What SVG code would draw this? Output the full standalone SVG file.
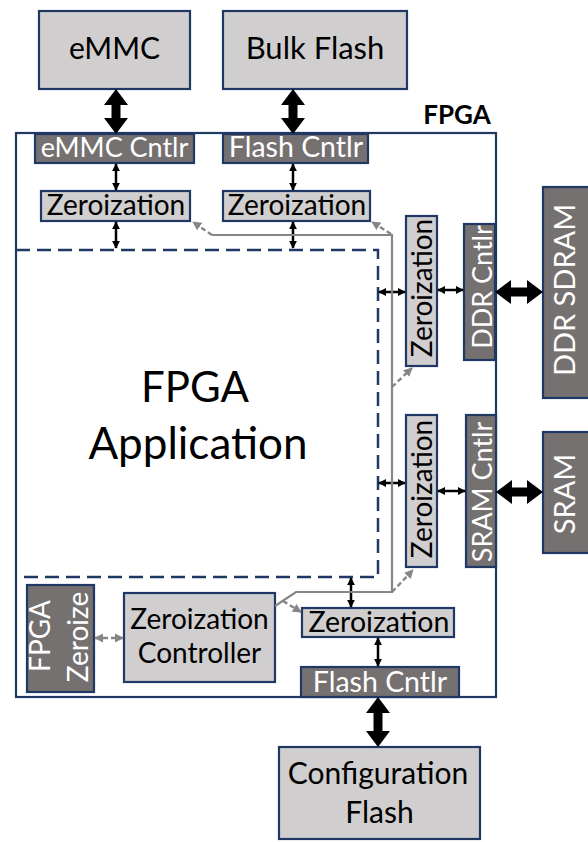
<svg xmlns="http://www.w3.org/2000/svg" width="588" height="842" viewBox="0 0 588 842">
<style>
.lt{fill:#d0cece;stroke:#1f3864;stroke-width:2.2}
.dk{fill:#757171;stroke:#1f3864;stroke-width:2.2}
.t{font-family:Lato,"Open Sans","Liberation Sans",sans-serif;fill:#000;text-anchor:middle}
.w{fill:#fff}
.big{fill:#000}
.sm{stroke:#000;stroke-width:2.5;fill:none;marker-start:url(#ka);marker-end:url(#ka)}
.gl{stroke:#868686;stroke-width:2.2;fill:none}
.gd{stroke:#868686;stroke-width:2.4;fill:none;stroke-dasharray:5 3;marker-end:url(#ga)}
.gdd{stroke:#868686;stroke-width:2.4;fill:none;stroke-dasharray:5 3;marker-start:url(#ga);marker-end:url(#ga)}
</style>
<defs>
<marker id="ka" viewBox="0 0 10 10" refX="9" refY="5" markerUnits="userSpaceOnUse" markerWidth="8" markerHeight="10" orient="auto-start-reverse"><path d="M0,0 L10,5 L0,10 Z" fill="#000"/></marker>
<marker id="ga" viewBox="0 0 10 10" refX="9" refY="5" markerUnits="userSpaceOnUse" markerWidth="9" markerHeight="10" orient="auto-start-reverse"><path d="M0,0 L10,5 L0,10 Z" fill="#868686"/></marker>
</defs>

<g id="fpga">
<rect x="16" y="133" width="480" height="564" fill="#fff" stroke="#1f3864" stroke-width="2.2"/>
<text class="t" x="457" y="124" font-size="26" font-weight="bold">FPGA</text>
</g>

<g id="fpga-app">
<path d="M16,250 H378 V577 H16" fill="none" stroke="#1f3864" stroke-width="2.5" stroke-dasharray="14 7"/>
<text class="t" x="195" y="402" font-size="42">FPGA</text>
<text class="t" x="198" y="459" font-size="44">Application</text>
</g>

<g id="emmc"><rect class="lt" x="39" y="11" width="151" height="78"/><text class="t" x="114.5" y="59" font-size="30">eMMC</text></g>
<g id="bulk-flash"><rect class="lt" x="223" y="11" width="184" height="78"/><text class="t" x="315" y="59" font-size="31">Bulk Flash</text></g>

<g id="emmc-cntlr"><rect class="dk" x="35" y="134" width="159" height="29"/><text class="t w" x="114.5" y="157" font-size="27">eMMC Cntlr</text></g>
<g id="flash-cntlr-top"><rect class="dk" x="223" y="134" width="145" height="29"/><text class="t w" x="296" y="157" font-size="28.5">Flash Cntlr</text></g>

<g id="zero-emmc"><rect class="lt" x="41" y="191" width="149" height="30"/><text class="t" x="116" y="215" font-size="28">Zeroization</text></g>
<g id="zero-flash"><rect class="lt" x="223" y="191" width="147" height="30"/><text class="t" x="297" y="215" font-size="28">Zeroization</text></g>

<g id="zero-ddr"><rect class="lt" x="406" y="216" width="31" height="150"/><text class="t" font-size="28" transform="translate(432,288) rotate(-90)">Zeroization</text></g>
<g id="ddr-cntlr"><rect class="dk" x="464" y="224" width="31" height="136"/><text class="t w" font-size="27" transform="translate(492,287) rotate(-90)">DDR Cntlr</text></g>
<g id="ddr-sdram"><rect class="dk" x="543" y="187" width="50" height="211"/><text class="t w" font-size="29" transform="translate(575,290) rotate(-90)">DDR SDRAM</text></g>

<g id="zero-sram"><rect class="lt" x="406" y="415" width="31" height="152"/><text class="t" font-size="28" transform="translate(432,489) rotate(-90)">Zeroization</text></g>
<g id="sram-cntlr"><rect class="dk" x="466" y="415" width="30" height="152"/><text class="t w" font-size="27" transform="translate(492,492) rotate(-90)">SRAM Cntlr</text></g>
<g id="sram"><rect class="dk" x="543" y="432" width="50" height="121"/><text class="t w" font-size="29" transform="translate(575,494) rotate(-90)">SRAM</text></g>

<g id="fpga-zeroize"><rect class="dk" x="27" y="585" width="67" height="107"/>
<text class="t w" font-size="28" transform="translate(50,636) rotate(-90)">FPGA</text>
<text class="t w" font-size="28" transform="translate(88,637) rotate(-90)">Zeroize</text></g>

<g id="zero-controller"><rect class="lt" x="124" y="593" width="151" height="89"/>
<text class="t" x="199.5" y="629" font-size="28">Zeroization</text>
<text class="t" x="199.5" y="663" font-size="28">Controller</text></g>

<g id="zero-config"><rect class="lt" x="302" y="608" width="152" height="29"/><text class="t" x="379" y="632" font-size="28.5">Zeroization</text></g>
<g id="flash-cntlr-bottom"><rect class="dk" x="301" y="667" width="158" height="30"/><text class="t w" x="380" y="692" font-size="28.5">Flash Cntlr</text></g>

<g id="config-flash"><rect class="lt" x="279" y="747" width="201" height="92"/>
<text class="t" x="378" y="784" font-size="30">Configuration</text>
<text class="t" x="379.5" y="823" font-size="30">Flash</text></g>

<g id="connectors">
<polygon class="big" points="116,89 128,105 120.5,105 120.5,118 128,118 116,134 104,118 111.5,118 111.5,105 104,105"/>
<polygon class="big" points="293,89 305,105 297.5,105 297.5,118 305,118 293,134 281,118 288.5,118 288.5,105 281,105"/>
<polygon class="big" points="378,697 390,713 382.5,713 382.5,731 390,731 378,747 366,731 373.5,731 373.5,713 366,713"/>
<polygon class="big" points="495,292 511,280 511,287.5 527,287.5 527,280 543,292 527,304 527,296.5 511,296.5 511,304"/>
<polygon class="big" points="496,492 512,480 512,487.5 527,487.5 527,480 543,492 527,504 527,496.5 512,496.5 512,504"/>

<line class="sm" x1="116" y1="164" x2="116" y2="190"/>
<line class="sm" x1="116" y1="222" x2="116" y2="248"/>
<line class="sm" x1="293" y1="164" x2="293" y2="190"/>
<line class="sm" x1="293" y1="222" x2="293" y2="248"/>
<line class="sm" x1="379" y1="292" x2="405" y2="292"/>
<line class="sm" x1="438" y1="290" x2="463" y2="290"/>
<line class="sm" x1="379" y1="483" x2="405" y2="483"/>
<line class="sm" x1="438" y1="491" x2="465" y2="491"/>
<line class="sm" x1="351" y1="578" x2="351" y2="607"/>
<line class="sm" x1="378" y1="638" x2="378" y2="666"/>

<path class="gl" d="M275,606 L296,592 H392 V235 H212"/>
<line class="gd" x1="212" y1="235" x2="193" y2="222"/>
<line class="gd" x1="391" y1="234" x2="372" y2="222"/>
<line class="gd" x1="392" y1="387" x2="412" y2="368"/>
<line class="gd" x1="392" y1="592" x2="413" y2="570"/>
<line class="gd" x1="283" y1="601" x2="301" y2="612"/>
<line class="gdd" x1="95" y1="638" x2="123" y2="638"/>
</g>
</svg>
